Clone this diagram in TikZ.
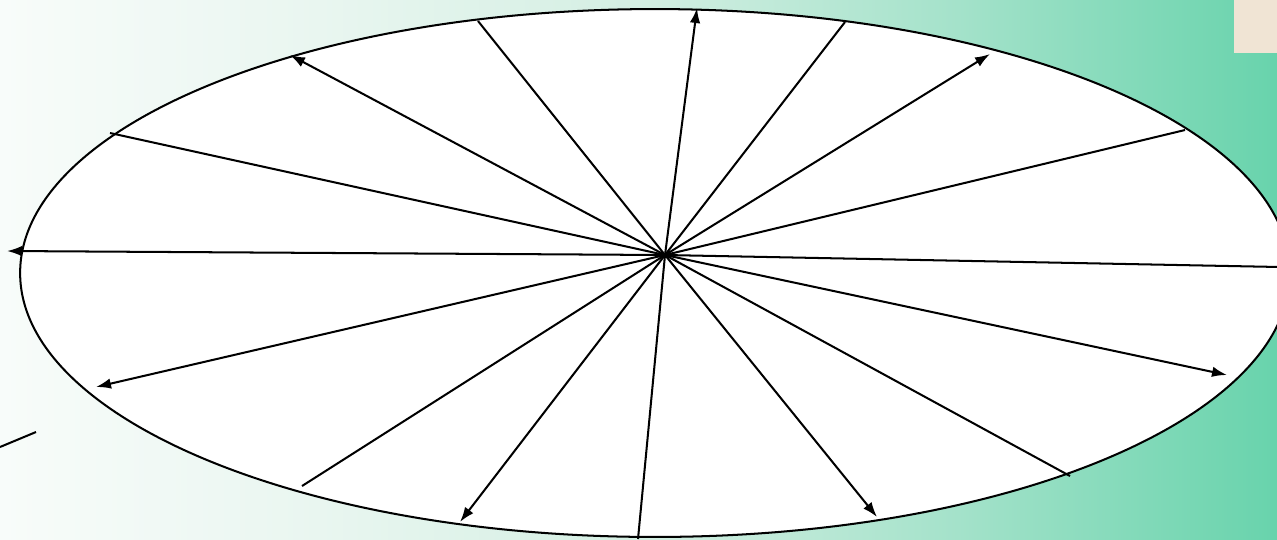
\documentclass[tikz,border=0pt]{standalone}
\usepackage{tikz}
\usetikzlibrary{arrows.meta}
\definecolor{seafoam}{RGB}{104,211,172}
\definecolor{paleleft}{RGB}{248,252,250}
\definecolor{paleq}{RGB}{233,246,240}
\definecolor{palemid}{RGB}{212,239,227}
\definecolor{mintq}{RGB}{164,226,202}
\definecolor{sandbeige}{RGB}{240,228,212}
\pgfdeclarehorizontalshading{bgfade}{100bp}{color(0bp)=(paleleft); color(25bp)=(paleleft);
  color(37.5bp)=(paleq); color(50bp)=(palemid); color(62.5bp)=(mintq);
  color(75bp)=(seafoam); color(100bp)=(seafoam)}
\tikzset{
  spoke/.style={line width=1.15pt, black},
  ray/.style={spoke, -{Latex[length=3mm,width=2.1mm]}},
  rim/.style={line width=1.15pt, draw=black, fill=white},
  tag/.style={fill=sandbeige, draw=none}
}

\begin{document}
\begin{tikzpicture}[x=0.02cm, y=-0.02cm]
  \useasboundingbox (0,0) rectangle (1277,539);
  % background
  \shade[shading=bgfade] (0,0) rectangle (1277,539);
  \fill[tag] (1234,0) rectangle (1277,53);
  % wheel
  \draw[rim] (655,273) ellipse [x radius=12.7cm, y radius=5.28cm];
  \coordinate (hub) at (665,255);
  \foreach \px/\py/\kind [count=\i] in {697/8/ray, 845/22/spoke, 990/54/ray, 1185/130/spoke,
      1280/267/spoke, 1227/375/ray, 1070/476/spoke, 877/517/ray, 638/539/spoke,
      460/522/ray, 302/486/spoke, 96/387/ray, 7/251/ray, 110/133/spoke,
      290/55/ray, 478/21/spoke} {
    \coordinate (tip\i) at (\px,\py);
    \draw[\kind] (hub) -- (tip\i);
  }
  % stray stroke
  \coordinate (stubA) at (0,447);
  \coordinate (stubB) at (36,432);
  \draw[spoke] (stubA) -- (stubB);
\end{tikzpicture}
\end{document}
